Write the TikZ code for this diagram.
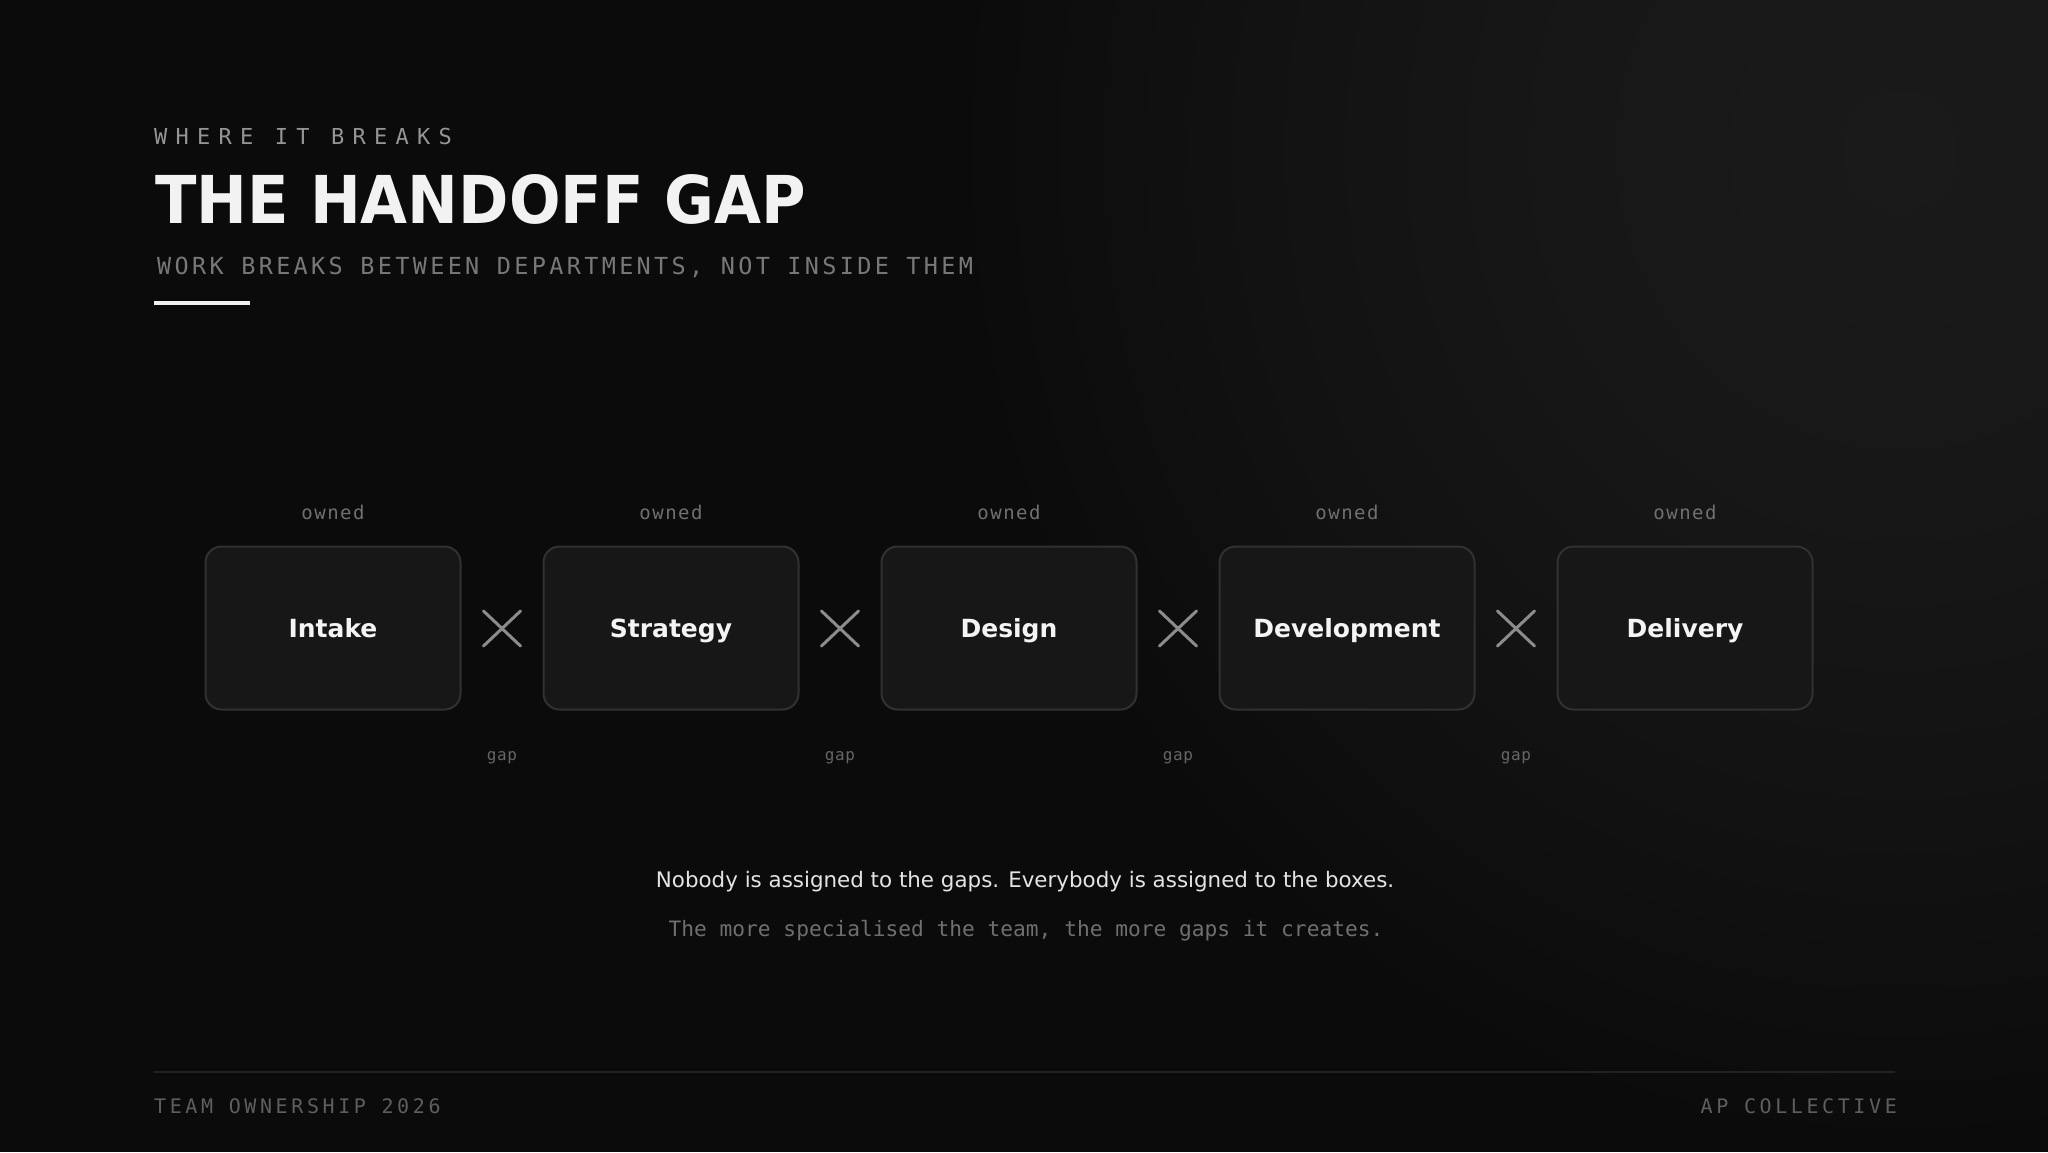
\documentclass[tikz,border=0pt]{standalone}
\usepackage{fontspec}
\setmainfont{DejaVu Sans}
\setmonofont{DejaVu Sans Mono}
\newfontfamily\eyebrowfont[LetterSpace=37.5]{DejaVu Sans Mono}
\newfontfamily\subtitlefont[LetterSpace=14.2]{DejaVu Sans Mono}
\newfontfamily\ownedfont[LetterSpace=8]{DejaVu Sans Mono}
\newfontfamily\gapfont[LetterSpace=4]{DejaVu Sans Mono}
\newfontfamily\footfont[LetterSpace=18]{DejaVu Sans Mono}
\newfontfamily\plainmono{DejaVu Sans Mono}
\newfontfamily\titlefont[FakeStretch=0.92]{DejaVu Sans}
\newfontfamily\sansfont{DejaVu Sans}
\usetikzlibrary{shapes.misc}

\definecolor{bg}{HTML}{0B0B0B}
\definecolor{glowA}{HTML}{1A1A1A}
\definecolor{glowB}{HTML}{171717}
\definecolor{glowC}{HTML}{121212}
\definecolor{titlec}{HTML}{F2F2F2}
\definecolor{eyebrowc}{HTML}{959595}
\definecolor{subc}{HTML}{787878}
\definecolor{barc}{HTML}{F0F0F0}
\definecolor{boxfill}{HTML}{171717}
\definecolor{boxborder}{HTML}{313131}
\definecolor{boxtext}{HTML}{F4F4F4}
\definecolor{ownedc}{HTML}{707070}
\definecolor{gapc}{HTML}{666666}
\definecolor{crossc}{HTML}{8C8C8C}
\definecolor{cap1c}{HTML}{E4E4E4}
\definecolor{cap2c}{HTML}{6F6F6F}
\definecolor{footc}{HTML}{5E5E5E}
\definecolor{footline}{HTML}{222222}

\pgfdeclareradialshading{glow}{\pgfpoint{0bp}{0bp}}{color(0bp)=(glowA); color(9bp)=(glowB); color(17bp)=(glowC); color(25bp)=(bg); color(50bp)=(bg)}

\tikzset{
  eyebrow/.style={font=\eyebrowfont\fontsize{22}{26}\selectfont, text=eyebrowc, inner sep=0pt},
  titletext/.style={font=\titlefont\bfseries\fontsize{66}{70}\selectfont, text=titlec, inner sep=0pt},
  subtitle/.style={font=\subtitlefont\fontsize{23.5}{28}\selectfont, text=subc, inner sep=0pt},
  stagebox/.style={draw=boxborder, fill=boxfill, line width=2pt, rounded corners=16pt,
    minimum width=255pt, minimum height=163pt, inner sep=0pt},
  stagelabel/.style={font=\sansfont\bfseries\fontsize{25}{30}\selectfont, text=boxtext, inner sep=0pt},
  ownedlbl/.style={font=\ownedfont\fontsize{19}{22}\selectfont, text=ownedc, inner sep=0pt},
  gaplbl/.style={font=\gapfont\fontsize{16}{19}\selectfont, text=gapc, inner sep=0pt},
  crossmark/.style={cross out, draw=crossc, line width=3pt, line cap=round,
    minimum width=34pt, minimum height=32pt, inner sep=0pt},
  capmain/.style={font=\sansfont\fontsize{21.4}{26}\selectfont, text=cap1c, inner sep=0pt},
  capsub/.style={font=\plainmono\fontsize{21.2}{26}\selectfont, text=cap2c, inner sep=0pt},
  foottext/.style={font=\footfont\fontsize{20}{24}\selectfont, text=footc, inner sep=0pt},
}

\begin{document}
\begin{tikzpicture}[x=1pt,y=-1pt]
\useasboundingbox (0,0) rectangle (2048,1152);
\fill[bg] (0,0) rectangle (2048,1152);
\begin{scope}
  \clip (0,0) rectangle (2048,1152);
  \shade[shading=glow] (1900,150) ellipse[x radius=950, y radius=1000];
\end{scope}

% header
\node[eyebrow, anchor=base west] (eyebrow) at (154,144) {WHERE IT BREAKS};
\node[titletext, anchor=base west] (title) at (155,223) {THE HANDOFF GAP};
\node[subtitle, anchor=base west] (subtitle) at (157,274) {WORK BREAKS BETWEEN DEPARTMENTS, NOT INSIDE THEM};
\fill[barc] (154,301) rectangle (250,305);

% stages
\foreach \i/\nm/\lbl in {0/intake/Intake, 1/strategy/Strategy, 2/design/Design, 3/development/Development, 4/delivery/Delivery}{
  \node[stagebox] (\nm) at ({333+338*\i},628) {};
  \node[stagelabel, anchor=base] (\nm-label) at ({333+338*\i},637) {\lbl};
  \node[ownedlbl, anchor=base] (\nm-owned) at ({333+338*\i},519) {owned};
}

% gaps
\foreach \i in {0,1,2,3}{
  \node[crossmark] (cross\i) at ({502+338*\i},628.5) {};
  \node[gaplbl, anchor=base] (gap\i) at ({502+338*\i},760) {gap};
}

% captions
\node[capmain, anchor=base] (caption) at (1025,887) {Nobody is assigned to the gaps. Everybody is assigned to the boxes.};
\node[capsub, anchor=base] (subcaption) at (1026,936) {The more specialised the team, the more gaps it creates.};

% footer
\coordinate (fl) at (154,1072);
\coordinate (fr) at (1895,1072);
\draw[footline, line width=1.5pt] (fl) -- (fr);
\node[foottext, anchor=base west] (footleft) at (154,1113) {TEAM OWNERSHIP 2026};
\node[foottext, anchor=base east] (footright) at (1897,1113) {AP COLLECTIVE};
\end{tikzpicture}
\end{document}
